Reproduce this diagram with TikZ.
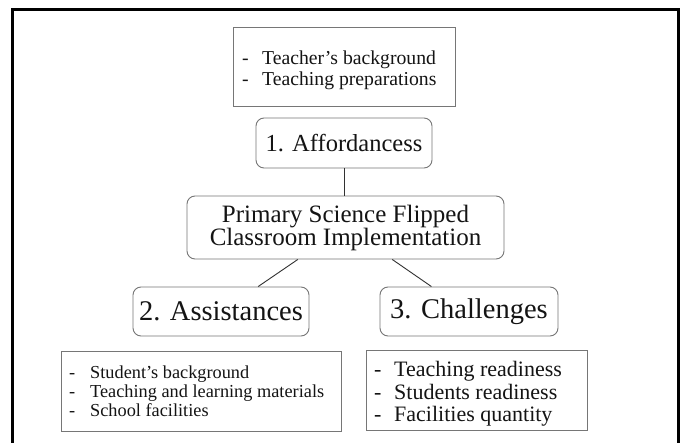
\documentclass[tikz,border=0pt]{standalone}
\usepackage{fontspec}
\setmainfont{Liberation Serif}
\usetikzlibrary{calc}
\definecolor{boxgray}{RGB}{118,118,118}
\definecolor{linegray}{RGB}{50,50,50}
\definecolor{inkblack}{RGB}{20,20,20}
\begin{document}
\begin{tikzpicture}[x=1pt,y=-1pt,
  rbox/.style={draw=boxgray, line width=0.9pt, rounded corners=8pt, inner sep=0pt, align=center, text=inkblack},
  sbox/.style={draw=boxgray, line width=0.9pt, inner sep=0pt},
  listtext/.style={anchor=west, inner sep=0pt, text=inkblack},
  link/.style={draw=linegray, line width=0.9pt},
  frameline/.style={draw=black, line width=3pt}]
\useasboundingbox (0,0) rectangle (683,443);
\clip (0,0) rectangle (683,443);
\fill[white] (0,0) rectangle (683,443);
% outer frame (bottom edge lies beyond the picture)
\draw[frameline] (12.5,9.5) rectangle (678,470);

% top list box
\node[sbox, minimum width=222pt, minimum height=79pt] (prep) at (344,66.5) {};
\node[listtext] (preptext) at (242,70.5)
  {\fontsize{19.7}{21}\selectfont\begin{tabular}{@{}p{20pt}@{}l@{}}-&Teacher's background\\-&Teaching preparations\end{tabular}};

% 1. Affordancess
\node[rbox, minimum width=176pt, minimum height=50pt, font=\fontsize{24.5}{26}\selectfont] (aff) at (344,143) {1. Affordancess};

% central
\node[rbox, minimum width=317pt, minimum height=63pt, font=\fontsize{25}{23}\selectfont] (core) at (345.5,227.5) {Primary Science Flipped\\Classroom Implementation};

% 2 and 3
\node[rbox, minimum width=176pt, minimum height=49pt, font=\fontsize{28.5}{30}\selectfont] (assist) at (221,311.5) {2. Assistances};
\node[rbox, minimum width=178pt, minimum height=49pt, font=\fontsize{28.5}{30}\selectfont] (chall) at (469,311.5) {3. Challenges};

% bottom-left list
\node[sbox, minimum width=280pt, minimum height=80pt] (assistlist) at (201,391) {};
\node[listtext] (assisttext) at (69,394)
  {\fontsize{18.3}{19}\selectfont\begin{tabular}{@{}p{21pt}@{}l@{}}-&Student's background\\-&Teaching and learning materials\\-&School facilities\end{tabular}};

% bottom-right list
\node[sbox, minimum width=221pt, minimum height=80pt] (challlist) at (476.5,390) {};
\node[listtext] (challtext) at (374,395)
  {\fontsize{22}{22.5}\selectfont\begin{tabular}{@{}p{20pt}@{}l@{}}-&Teaching readiness\\-&Students readiness\\-&Facilities quantity\end{tabular}};

% connectors
\draw[link] (aff.south) -- (aff.south |- core.north);
\draw[link] ($(core.south west)!0.35!(core.south east)$) -- ($(assist.north west)!0.71!(assist.north east)$);
\draw[link] ($(core.south west)!0.647!(core.south east)$) -- ($(chall.north west)!0.29!(chall.north east)$);
\end{tikzpicture}
\end{document}
